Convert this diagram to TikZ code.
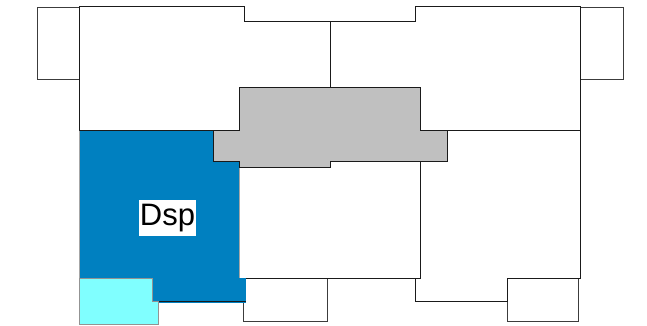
\documentclass[tikz,border=0pt]{standalone}
\usepackage{fontspec}
\setmainfont{Liberation Sans}
\definecolor{dspblue}{HTML}{0080C0}
\definecolor{dspcyan}{HTML}{80FFFF}
\definecolor{slab}{HTML}{C0C0C0}
\definecolor{ink}{HTML}{1A1A1A}
\tikzset{
  room/.style={draw=ink,line width=1.2pt,fill=white,line join=miter},
  annex/.style={draw=ink!85!white,line width=1.1pt,fill=white},
  core/.style={draw=ink,line width=1.3pt,fill=slab},
  dsp/.style={draw=dspblue,line width=0.6pt,fill=dspblue},
  cyanroom/.style={draw=gray!85,line width=1.2pt,fill=dspcyan},
  dsplabel/.style={fill=white,inner sep=0pt,minimum width=57pt,minimum height=36pt,text=black,font=\fontsize{31}{31}\selectfont}
}
\begin{document}
\begin{tikzpicture}[x=1pt,y=-1pt]
\useasboundingbox (0,0) rectangle (647,325);
\begin{scope}[shift={(-0.3,0.3)}]
% side annexes
\draw[annex] (37.5,7.5) -- (80,7.5) -- (80,79) -- (37.5,79) -- cycle;
\draw[annex] (581,7.5) -- (623.5,7.5) -- (623.5,79) -- (581,79) -- cycle;
% lower annexes
\draw[annex] (244,278) -- (328,278) -- (328,321.5) -- (244,321.5) -- cycle;
\draw[annex] (507.5,278) -- (579,278) -- (579,321.5) -- (507.5,321.5) -- cycle;
% upper rooms
\draw[room] (80,6) -- (245,6) -- (245,21) -- (331,21) -- (331,87) -- (240,87) -- (240,130.5) -- (80,130.5) -- cycle;
\draw[room] (331,21) -- (416,21) -- (416,6) -- (581,6) -- (581,130.5) -- (421,130.5) -- (421,87) -- (331,87) -- cycle;
% lower rooms
\draw[room] (240,161) -- (421,161) -- (421,278) -- (240,278) -- cycle;
\draw[room] (421,161) -- (447.5,161) -- (447.5,130.5) -- (581,130.5) -- (581,278) -- (508,278) -- (508,301) -- (416,301) -- (416,278) -- (421,278) -- cycle;
% blue room
\draw[dsp] (80,130.5) -- (214,130.5) -- (214,161) -- (240,161) -- (240,278) -- (246,278) -- (246,301.5) -- (153,301.5) -- (153,278) -- (80,278) -- cycle;
\draw[draw=ink,line width=1pt] (153,301.5) -- (246,301.5);
\draw[draw=ink,line width=1.2pt] (80,130.5) -- (240,130.5);
\draw[draw=gray!70,line width=0.8pt] (80,130.5) -- (80,278) (240,167) -- (240,278);
% cyan room
\draw[cyanroom] (80,278) -- (153,278) -- (153,301.5) -- (158.5,301.5) -- (158.5,324) -- (80,324) -- cycle;
% central core
\draw[core] (240,87) -- (421,87) -- (421,130.5) -- (447.5,130.5) -- (447.5,161) -- (331,161) -- (331,167) -- (240,167) -- (240,161) -- (214,161) -- (214,130.5) -- (240,130.5) -- cycle;
\node[dsplabel] (dsp) at (167.8,217.7) {Dsp};
\end{scope}
\end{tikzpicture}
\end{document}
